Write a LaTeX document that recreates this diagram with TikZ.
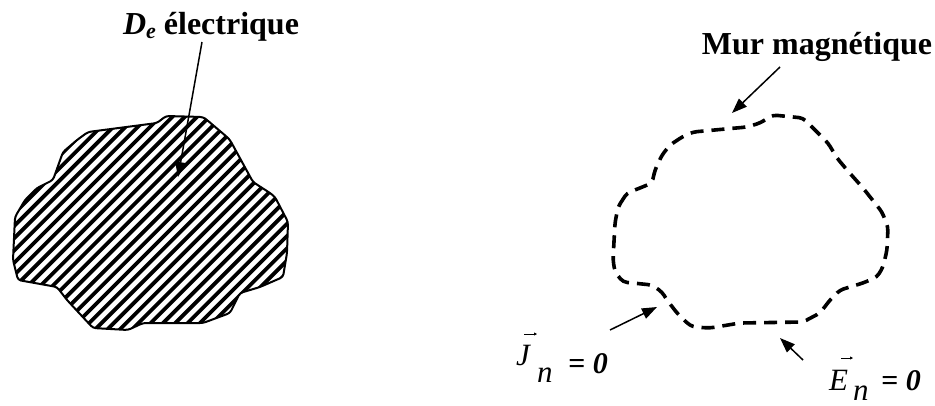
\documentclass[tikz,border=0pt]{standalone}
\usepackage{fontspec}
\setmainfont{Liberation Serif}
\usetikzlibrary{arrows.meta}
\begin{document}
\begin{tikzpicture}[x=1pt,y=-1pt,
  lbl/.style={font=\fontsize{32}{38}\selectfont\bfseries, inner sep=0pt},
  mlbl/.style={font=\fontsize{31}{36}\selectfont\itshape, inner sep=0pt, anchor=base west},
  ptr/.style={line width=1.5pt, -{Triangle[length=15pt,width=11pt]}},
  vec/.style={line width=0.8pt, -{Triangle[length=3pt,width=3pt]}},
  wall/.style={line width=3.6pt, dash pattern=on 13pt off 8pt}]
\useasboundingbox (0,0) rectangle (935,405);
% left region
\def\leftshape{(166,116) -- (203,117) -- (207,120) -- (227,137) -- (230,140) -- (253,182) -- (270,193) -- (275,197) -- (288,222) -- (287,253) -- (283,277) -- (260,287) -- (240,293) -- (230,313) -- (203,323) -- (143,323) -- (128,330) -- (93,328) -- (67,300) -- (57,287) -- (18,280) -- (13,260) -- (15,217) -- (25,200) -- (37,188) -- (53,180) -- (63,152) -- (77,140) -- (88,132) -- (157,123) -- cycle}
\begin{scope}
  \clip \leftshape;
  \foreach \k in {-40,...,40} {
    \draw[line width=3.8pt] (\k*12.3,400) -- (\k*12.3+400,0);
  }
\end{scope}
\draw[line width=2pt, line join=round, rounded corners=3pt] \leftshape;
\node[lbl] (de) at (211,27) {\textit{D}\raisebox{-0.25ex}{\fontsize{22}{24}\selectfont\textit{e}} électrique};
\coordinate (detip) at (178,177);
\draw[ptr] (202,42) -- (detip);
% right region (magnetic wall)
\draw[wall, rounded corners=4pt] (618,207) -- (627,193) -- (640,188) -- (652,183) -- (655,170) -- (662,155) -- (670,145) -- (682,137) -- (693,132) -- (747,127) -- (760,123) -- (773,115) -- (793,117) -- (803,118) -- (820,135) -- (828,143) -- (837,158) -- (847,170) -- (863,188) -- (882,212) -- (888,227) -- (887,250) -- (883,267) -- (877,277) -- (863,283) -- (840,290) -- (830,300) -- (820,313) -- (803,322) -- (740,323) -- (710,328) -- (693,327) -- (687,323) -- (677,313) -- (667,300) -- (662,292) -- (652,285) -- (623,282) -- (615,272) -- (613,260) -- (615,223) -- cycle;
\node[lbl] (mur) at (817,47) {Mur magnétique};
\coordinate (murtip) at (732,113);
\draw[ptr] (780,67) -- (murtip);
% J_n = 0
\node[mlbl] (J) at (516,365) {J};
\draw[vec] (524,334) -- (537,334);
\node[mlbl] (Jn) at (537,382) {n};
\node[mlbl, font=\fontsize{30}{36}\selectfont\bfseries\itshape] (J0) at (568,373) {= 0};
\coordinate (jtip) at (657,307);
\draw[ptr] (610,330) -- (jtip);
% E_n = 0
\node[mlbl] (E) at (829,390) {E};
\draw[vec] (841,358) -- (853,358);
\node[mlbl] (En) at (853,400) {n};
\node[mlbl, font=\fontsize{30}{36}\selectfont\bfseries\itshape] (E0) at (881,390) {= 0};
\coordinate (etip) at (780,338);
\draw[ptr] (803,360) -- (etip);
\end{tikzpicture}
\end{document}
